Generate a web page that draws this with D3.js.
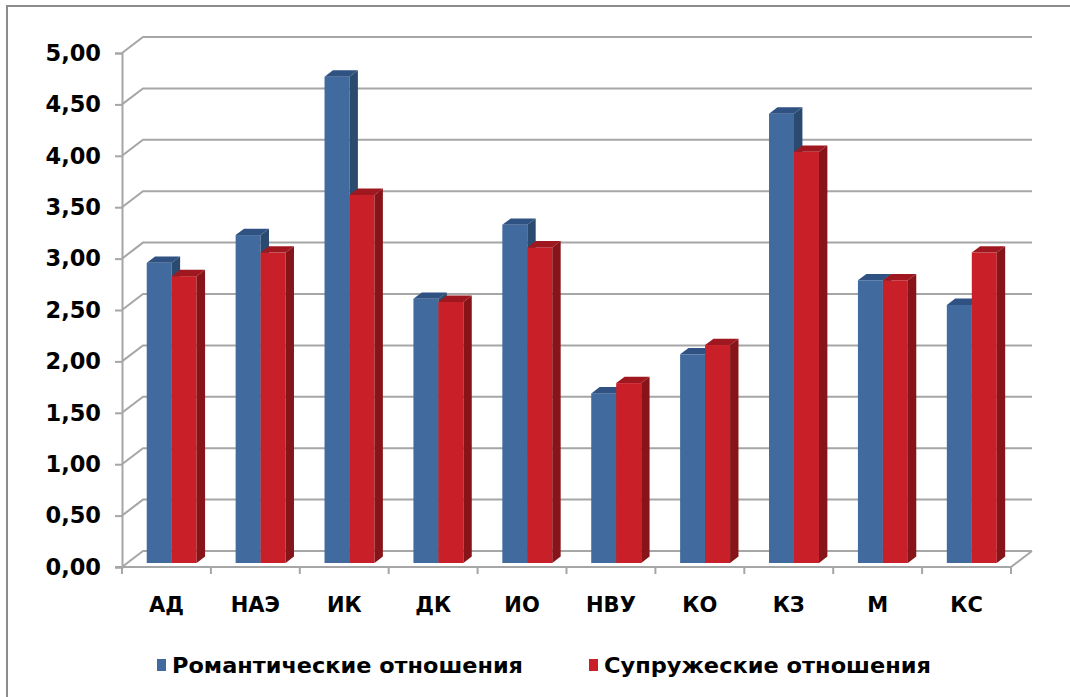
<!DOCTYPE html>
<html>
<head>
<meta charset="utf-8">
<script src="https://cdn.jsdelivr.net/npm/d3@7"></script>
<style>
  body { margin: 0; background: #fff; }
  svg { display: block; }
</style>
</head>
<body>
<div id="chart"></div>
<script>
// data
var categories = ["АД", "НАЭ", "ИК", "ДК", "ИО", "НВУ", "КО", "КЗ", "М", "КС"];
var seriesNames = ["Романтические отношения", "Супружеские отношения"];
var romantic = [2.92, 3.19, 4.73, 2.57, 3.29, 1.65, 2.03, 4.37, 2.75, 2.51];
var marital  = [2.79, 3.02, 3.58, 2.54, 3.07, 1.75, 2.12, 4.00, 2.75, 3.02];
var yTicks = [0, 0.5, 1, 1.5, 2, 2.5, 3, 3.5, 4, 4.5, 5];

var colors = [
  { front: "#416a9e", top: "#2f5283", side: "#2b4a6f" },
  { front: "#c81f28", top: "#a0181f", side: "#861418" }
];

function init() {
  const W = 1070, H = 697;
  const depthX = 21, depthY = 16;     // wall depth
  const barOff = 0.25, barDepth = 0.4; // bar position inside the depth

  const svg = d3.select("#chart").append("svg")
    .attr("width", W).attr("height", H);

  svg.append("rect").attr("width", W).attr("height", H).attr("fill", "#fff");

  // outer frame
  svg.append("rect")
    .attr("x", 7).attr("y", 6)
    .attr("width", W + 20).attr("height", H + 20)
    .attr("fill", "none").attr("stroke", "#8c8c8c").attr("stroke-width", 2);

  const x = d3.scaleBand().domain(categories).range([122, 1011]);
  const inner = d3.scaleBand().domain([0, 1]).range([0, x.bandwidth()])
    .paddingInner(0).paddingOuter(0.78);
  const y = d3.scaleLinear().domain([0, 5]).range([567, 53]);

  const grid = svg.append("g").attr("stroke", "#a6a6a6").attr("stroke-width", 2)
    .attr("fill", "none");

  // back wall gridlines with the left side wall diagonals
  yTicks.forEach(function(t) {
    grid.append("path")
      .attr("d", "M" + 122 + "," + y(t) + "L" + (122 + depthX) + "," + (y(t) - depthY) +
                 "H" + (1011 + depthX));
  });
  // floor right edge
  grid.append("path")
    .attr("d", "M1011," + y(0) + "L" + (1011 + depthX) + "," + (y(0) - depthY));

  // value axis
  const yAxis = d3.axisLeft(y).tickValues(yTicks).tickSize(7).tickPadding(14)
    .tickFormat(function(d) { return d3.format(".2f")(d).replace(".", ","); });
  const ya = svg.append("g").attr("transform", "translate(122,0)").call(yAxis);
  ya.select(".domain").attr("stroke", "#a6a6a6").attr("stroke-width", 2);
  ya.selectAll(".tick line").attr("stroke", "#a6a6a6").attr("stroke-width", 2);
  ya.selectAll(".tick text")
    .attr("font-family", "DejaVu Sans, Verdana, sans-serif")
    .attr("font-weight", "bold").attr("font-size", 22.5).attr("fill", "#000");

  // category axis
  const xa = svg.append("g").attr("transform", "translate(0," + y(0) + ")");
  xa.append("line").attr("x1", 115).attr("x2", 1011)
    .attr("stroke", "#a6a6a6").attr("stroke-width", 2);
  const bounds = categories.map(function(c) { return x(c); }).concat([x.range()[1]]);
  xa.selectAll(".cut").data(bounds).enter().append("line")
    .attr("x1", function(d) { return d; }).attr("x2", function(d) { return d; })
    .attr("y1", 0).attr("y2", 7)
    .attr("stroke", "#a6a6a6").attr("stroke-width", 2);
  xa.selectAll(".lab").data(categories).enter().append("text")
    .attr("x", function(d) { return x(d) + x.bandwidth() / 2; })
    .attr("y", 45)
    .attr("text-anchor", "middle")
    .attr("font-family", "DejaVu Sans, Verdana, sans-serif")
    .attr("font-weight", "bold").attr("font-size", 21)
    .text(function(d) { return d; });

  // 3D columns
  const ox = depthX * barOff, oy = depthY * barOff;
  const bx = depthX * barDepth, by = depthY * barDepth;
  const bars = svg.append("g");
  const series = [romantic, marital];

  categories.forEach(function(c, i) {
    series.forEach(function(vals, s) {
      const v = vals[i];
      const x0 = x(c) + inner(s) + ox;
      const w = inner.bandwidth();
      const y0 = y(0) - oy, y1 = y(v) - oy;
      const col = colors[s];
      const g = bars.append("g");
      g.append("rect").attr("x", x0).attr("y", y1)
        .attr("width", w).attr("height", y0 - y1).attr("fill", col.front);
      g.append("path").attr("fill", col.top)
        .attr("d", "M" + x0 + "," + y1 + "L" + (x0 + bx) + "," + (y1 - by) +
                   "H" + (x0 + w + bx) + "L" + (x0 + w) + "," + y1 + "Z");
      g.append("path").attr("fill", col.side)
        .attr("d", "M" + (x0 + w) + "," + y1 + "L" + (x0 + w + bx) + "," + (y1 - by) +
                   "V" + (y0 - by) + "L" + (x0 + w) + "," + y0 + "Z");
    });
  });

  // legend
  const legendX = [157, 589];
  const legendW = [351, 327];
  const leg = svg.append("g");
  seriesNames.forEach(function(name, s) {
    leg.append("rect").attr("x", legendX[s]).attr("y", 659)
      .attr("width", 9).attr("height", 12).attr("fill", colors[s].front);
    leg.append("text")
      .attr("x", legendX[s] + 15).attr("y", 673)
      .attr("font-family", "DejaVu Sans Condensed, Liberation Sans Narrow, sans-serif")
      .attr("font-weight", "bold").attr("font-size", 21)
      .attr("textLength", legendW[s]).attr("lengthAdjust", "spacingAndGlyphs")
      .text(name);
  });
}

window.onload = init;
</script>
</body>
</html>
